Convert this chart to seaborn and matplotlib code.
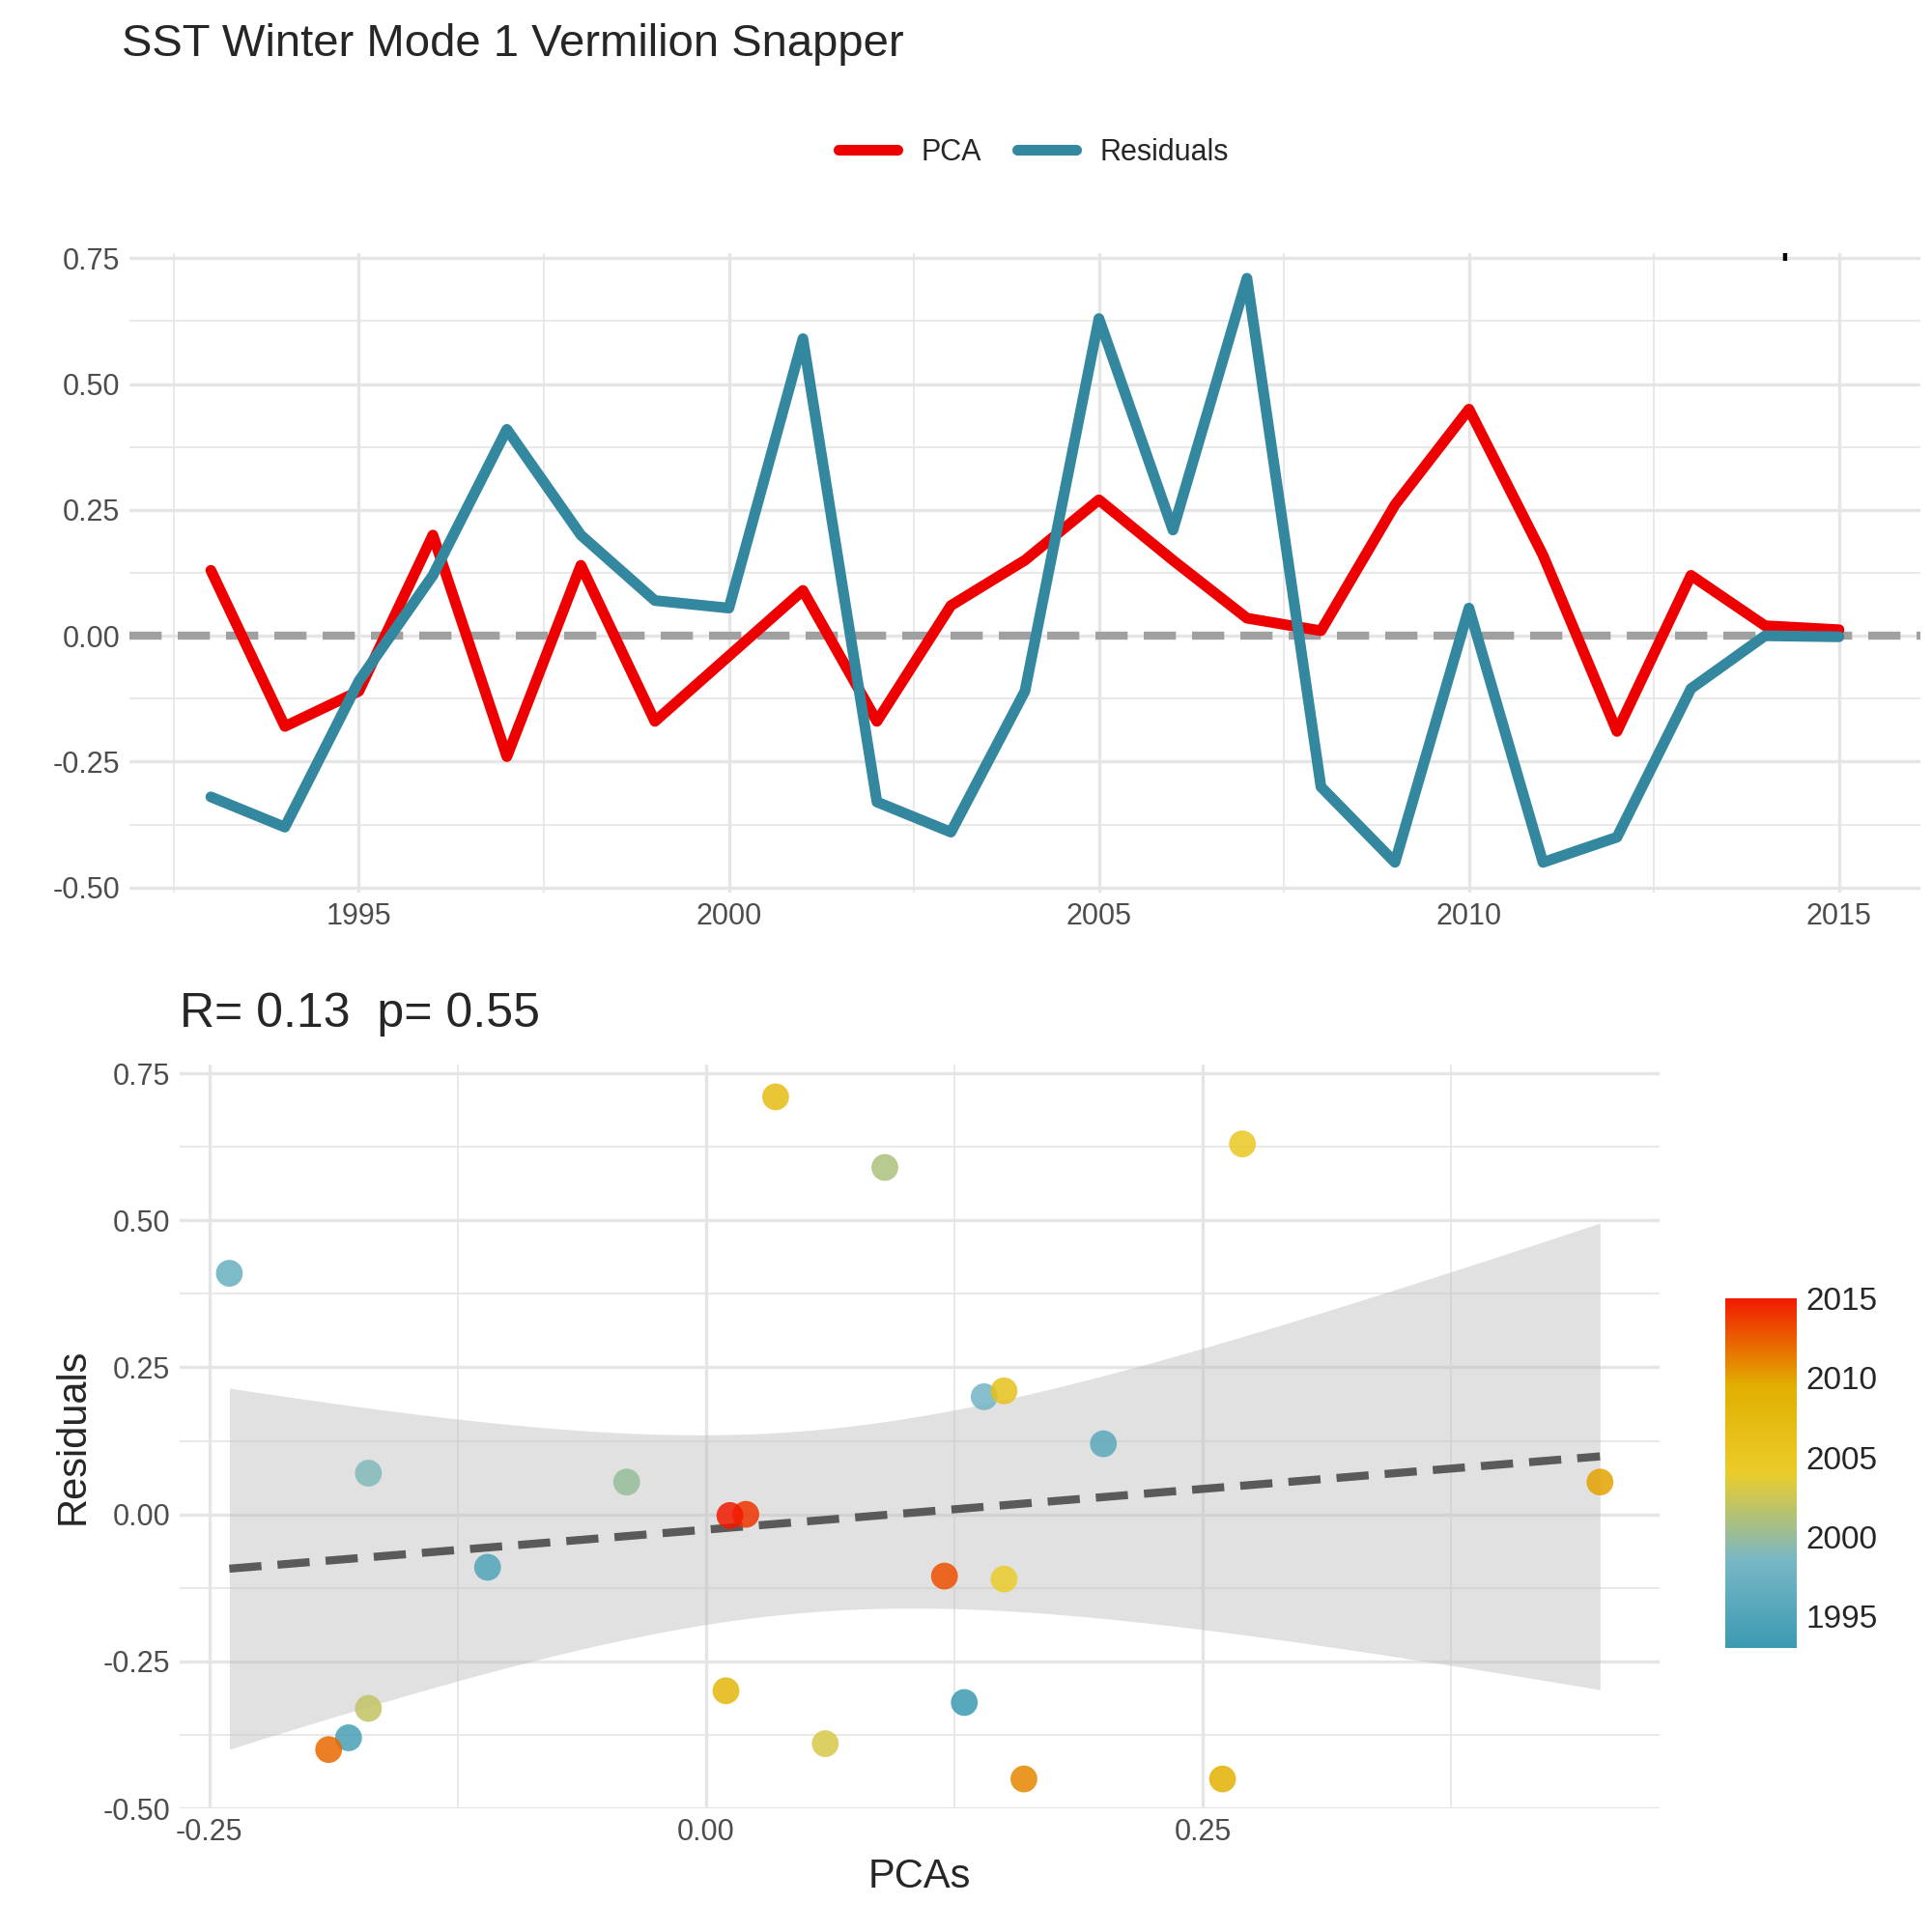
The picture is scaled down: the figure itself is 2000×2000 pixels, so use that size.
import matplotlib.pyplot as plt
import matplotlib.colors as mcolors
import numpy as np
import pandas as pd
import seaborn as sns

years = list(range(1993, 2016))
pca = [0.13, -0.18, -0.11, 0.20, -0.24, 0.14, -0.17, -0.04, 0.09, -0.17, 0.06, 0.15,
       0.27, 0.15, 0.035, 0.01, 0.26, 0.45, 0.16, -0.19, 0.12, 0.02, 0.012]
resid = [-0.32, -0.38, -0.09, 0.12, 0.41, 0.20, 0.07, 0.055, 0.59, -0.33, -0.39, -0.11,
         0.63, 0.21, 0.71, -0.30, -0.45, 0.055, -0.45, -0.40, -0.105, 0.0, -0.002]
df = pd.DataFrame({'year': years, 'PCA': pca, 'Residuals': resid})

sns.set_theme(style='whitegrid')
plt.rcParams['font.family'] = ['Liberation Sans', 'DejaVu Sans']
GRID = '#E5E5E5'
TXT = '#4D4D4D'

cmap = mcolors.LinearSegmentedColormap.from_list(
    'zissou', ["#3B9AB2", "#78B7C5", "#EBCC2A", "#E1AF00", "#F21A00"])
norm = mcolors.Normalize(1993, 2015)

fig = plt.figure(figsize=(10, 10), dpi=200)
fig.patch.set_facecolor('white')

def style(ax, xminor, yminor):
    for s in ax.spines.values():
        s.set_visible(False)
    ax.set_xticks(xminor, minor=True)
    ax.set_yticks(yminor, minor=True)
    ax.grid(which='major', color=GRID, linewidth=1.2)
    ax.grid(which='minor', color=GRID, linewidth=0.6)
    ax.tick_params(which='both', length=0, colors=TXT, labelsize=11)

# top panel
ax1 = fig.add_axes([0.067, 0.538, 0.927, 0.331])
ax1.axhline(0, color='#A0A0A0', linestyle='--', linewidth=3, dashes=(4, 2), zorder=1)
sns.lineplot(data=df, x='year', y='PCA', color='#EE0000', linewidth=4, ax=ax1, label='PCA')
sns.lineplot(data=df, x='year', y='Residuals', color='#3388A0', linewidth=4, ax=ax1, label='Residuals')
ax1.set_xlim(1991.9, 2016.1)
ax1.set_ylim(-0.51, 0.76)
ax1.set_xticks([1995, 2000, 2005, 2010, 2015])
ax1.set_yticks([-0.5, -0.25, 0, 0.25, 0.5, 0.75])
ax1.set_yticklabels(['-0.50', '-0.25', '0.00', '0.25', '0.50', '0.75'])
style(ax1, [1992.5, 1997.5, 2002.5, 2007.5, 2012.5], [-0.375, -0.125, 0.125, 0.375, 0.625])
ax1.set_xlabel('')
ax1.set_ylabel('')
ax1.text(2016.4, 0.745, 'R= 0.13  p= 0.55', ha='right', va='bottom', fontsize=18,
         color='black', clip_on=True)
handles, labels = ax1.get_legend_handles_labels()
ax1.legend().remove()
fig.legend(handles, labels, loc='center', bbox_to_anchor=(0.535, 0.921), ncol=2,
           frameon=False, fontsize=11, handlelength=2, columnspacing=1.2)

fig.text(0.063, 0.977, 'SST Winter Mode 1 Vermilion Snapper', fontsize=17, va='center')

# bottom panel: linear fit with analytic 95% band
x = np.array(pca)
y = np.array(resid)
b, a = np.polyfit(x, y, 1)
n = len(x)
xs = np.linspace(x.min(), x.max(), 100)
se = np.sqrt(np.sum((y - (a + b * x)) ** 2) / (n - 2))
band = 2.08 * se * np.sqrt(1 / n + (xs - x.mean()) ** 2 / np.sum((x - x.mean()) ** 2))
fit = a + b * xs

ax2 = fig.add_axes([0.093, 0.064, 0.766, 0.385])
ax2.fill_between(xs, fit - band, fit + band, color='#BDBDBD', alpha=0.45, linewidth=0, zorder=1)
sns.lineplot(x=xs, y=fit, ax=ax2, color='#5A5A5A', linewidth=3, linestyle='--', zorder=2)
ax2.lines[-1].set_dashes((4, 2))
ax2.scatter(df['PCA'], df['Residuals'], c=df['year'], cmap=cmap, norm=norm, s=100,
            edgecolor='none', alpha=0.85, zorder=3)
ax2.set_xlim(-0.265, 0.48)
ax2.set_ylim(-0.485, 0.765)
ax2.set_xticks([-0.25, 0, 0.25])
ax2.set_xticklabels(['-0.25', '0.00', '0.25'])
ax2.set_yticks([-0.5, -0.25, 0, 0.25, 0.5, 0.75])
ax2.set_yticklabels(['-0.50', '-0.25', '0.00', '0.25', '0.50', '0.75'])
style(ax2, [-0.125, 0.125, 0.375], [-0.375, -0.125, 0.125, 0.375, 0.625])
ax2.set_xlabel('PCAs', fontsize=15)
ax2.set_ylabel('Residuals', fontsize=15)
ax2.set_title('R= 0.13  p= 0.55', loc='left', fontsize=18, pad=14)

cax = fig.add_axes([0.893, 0.147, 0.037, 0.181])
cb = fig.colorbar(plt.cm.ScalarMappable(norm=norm, cmap=cmap), cax=cax)
cb.set_ticks([1995, 2000, 2005, 2010, 2015])
cb.outline.set_visible(False)
cb.ax.tick_params(labelsize=12, length=5, color='white', direction='in')

fig.savefig('out.png')
